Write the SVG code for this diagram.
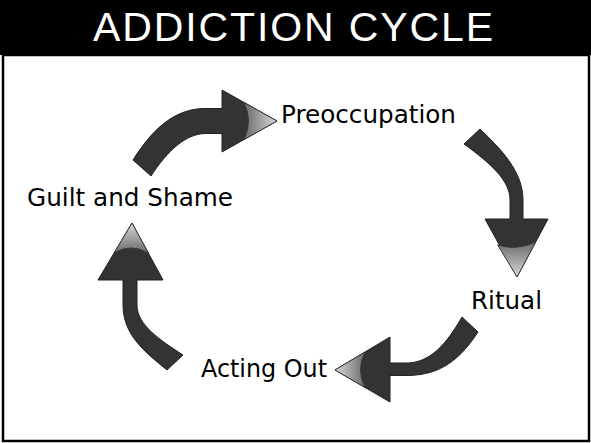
<svg xmlns="http://www.w3.org/2000/svg" width="591" height="443" viewBox="0 0 591 443">
<defs>
<style>
.arrow{fill:#333;stroke:#222;stroke-width:1;stroke-linejoin:miter}
.hl{stroke:#3a3a3a;stroke-width:1}
.lbl{font-family:"DejaVu Sans",Verdana,sans-serif;font-size:24px;fill:#000}
.title{font-family:"Liberation Sans",Arial,sans-serif;font-size:41px;fill:#fff}
</style>
<linearGradient id="gR" x1="0" y1="0" x2="1" y2="0"><stop offset="0" stop-color="#6a6a6a"/><stop offset="1" stop-color="#d8d8d8"/></linearGradient>
<linearGradient id="gD" x1="0" y1="0" x2="0" y2="1"><stop offset="0" stop-color="#6a6a6a"/><stop offset="1" stop-color="#d8d8d8"/></linearGradient>
<linearGradient id="gL" x1="1" y1="0" x2="0" y2="0"><stop offset="0" stop-color="#6a6a6a"/><stop offset="1" stop-color="#d8d8d8"/></linearGradient>
<linearGradient id="gU" x1="0" y1="1" x2="0" y2="0"><stop offset="0" stop-color="#6a6a6a"/><stop offset="1" stop-color="#d8d8d8"/></linearGradient>
</defs>
<rect x="0" y="0" width="591" height="55" fill="#000"/>
<rect x="3" y="55" width="586" height="386" fill="#fff" stroke="#000" stroke-width="2.5"/>
<text class="title" x="93" y="41" textLength="400" lengthAdjust="spacing">ADDICTION CYCLE</text>
<g id="connectors">
<g id="arrow-preoccupation">
<path class="arrow" d="M133,160 C150,133 172,108.5 205,108.5 L222,108.5 L222,90 L277,121 L222,152 L222,133.5 L205,133.5 C186,134 168,150 151,176 Z"/>
<path class="hl" fill="url(#gR)" d="M244,102.5 Q253,121 244,139.5 L277,121 Z"/>
</g>
<g id="arrow-ritual">
<path class="arrow" d="M480,129 C502,150 523,172 523,200 L523,219 L548,219 L517,277 L485,219 L510,219 L510,200 C510,180 490,163 464,144 Z"/>
<path class="hl" fill="url(#gD)" d="M497.7,245 Q516,251 535.7,242 L517,277 Z"/>
</g>
<g id="arrow-acting">
<path class="arrow" d="M478,332 C461,358 442,375 408,375.5 L390,375.5 L390,402 L335,370 L390,337 L390,363 L408,363 C430,362 446,345 462,317 Z"/>
<path class="hl" fill="url(#gL)" d="M365,352 Q356,370 365,387.5 L335,370 Z"/>
</g>
<g id="arrow-guilt">
<path class="arrow" d="M167,370 C145,352 123,335 123,305 L123,280 L98,280 L132,223 L163,280 L137,280 L137,305 C137,325 160,340 183,355 Z"/>
<path class="hl" fill="url(#gU)" d="M114,253 Q131,243 148.3,253 L132,223 Z"/>
</g>
</g>
<g id="node-preoccupation"><text class="lbl" x="281" y="123" textLength="175" lengthAdjust="spacingAndGlyphs">Preoccupation</text></g>
<g id="node-ritual"><text class="lbl" x="471" y="309" textLength="71" lengthAdjust="spacingAndGlyphs">Ritual</text></g>
<g id="node-acting-out"><text class="lbl" x="201" y="377" textLength="126" lengthAdjust="spacingAndGlyphs">Acting Out</text></g>
<g id="node-guilt-shame"><text class="lbl" x="27" y="206" textLength="206" lengthAdjust="spacingAndGlyphs">Guilt and Shame</text></g>
</svg>
